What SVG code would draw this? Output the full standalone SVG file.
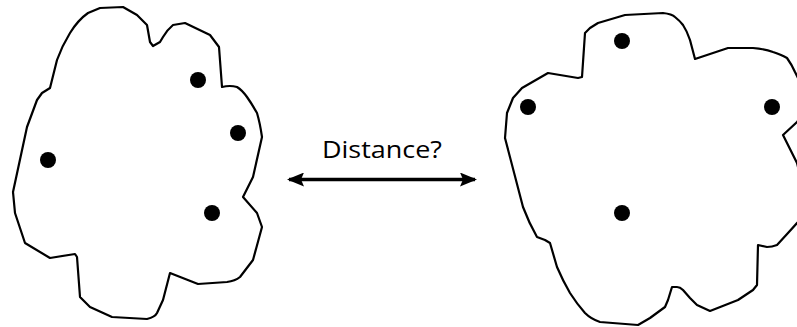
<svg xmlns="http://www.w3.org/2000/svg" width="797" height="327" viewBox="0 0 797 327">
<defs>
<style>
.cloud{fill:#fff;stroke:#000;stroke-width:2.2;stroke-linejoin:round}
.dot{fill:#000}
.conn{stroke:#000;stroke-width:3.5;fill:none}
.lbl{font-family:"Open Sans","Liberation Sans",sans-serif;font-size:24px;fill:#000}
</style>
<marker id="ah" viewBox="0 0 17 14" refX="15" refY="7" markerWidth="17" markerHeight="14" markerUnits="userSpaceOnUse" orient="auto-start-reverse">
<path d="M0,0 L17,7 L0,14 L3,7 Z" fill="#000"/>
</marker>
</defs>
<rect width="797" height="327" fill="#fff"/>
<g id="cloud-left">
<path class="cloud" d="M123,7 L100,8 L88,13 Q78,20 70,33 Q62,46 57,60 L50,88 L42,93 L37,100 L27,127 L13,192 L15,213 L25,243 L50,258 L75,254 L77,257 L80,297 L90,307 L112,317 L147,319 Q155,317 157,313 L163,300 L170,273 L198,284 L227,282 Q235,281 240,277 L253,260 L262,227 L257,213 L243,197 L253,177 L262,137 Q260,123 257,113 Q252,104 247,97 Q242,90 237,87 Q230,85 222,87 L219,47 L210,35 L185,23 L173,25 Q167,30 163,37 L160,42 L153,46 L150,42 L147,25 L137,15 Z"/>
<circle class="dot" cx="198" cy="80" r="8"/>
<circle class="dot" cx="238" cy="133" r="8"/>
<circle class="dot" cx="48" cy="160" r="8"/>
<circle class="dot" cx="212" cy="213" r="8"/>
</g>
<g id="cloud-right">
<path class="cloud" d="M625,15 L663,13 Q672,14 675,17 Q680,21 683,25 Q687,31 690,40 L695,59 L728,48 L753,48 Q765,49 773,52 Q782,55 787,58 Q792,65 795,72 L800,82 L800,118 L797,122 L783,135 L797,163 L800,175 L800,220 L797,223 L788,233 L777,245 Q772,247 767,247 L758,245 L757,285 L753,290 L738,300 L710,311 L697,305 L690,298 L683,290 Q680,287 677,287 L672,287 L668,300 L665,307 L650,318 L638,325 L600,322 Q591,319 585,313 Q577,304 570,293 Q563,281 557,267 L550,243 L545,240 L537,237 Q529,223 523,207 L505,138 L507,113 L513,98 L522,88 L548,73 L578,78 L582,77 L585,33 L590,28 L598,23 Z"/>
<circle class="dot" cx="622" cy="41" r="8"/>
<circle class="dot" cx="528" cy="107" r="8"/>
<circle class="dot" cx="772" cy="107" r="8"/>
<circle class="dot" cx="622" cy="213" r="8"/>
</g>
<g id="connectors">
<line class="conn" x1="289" y1="179.5" x2="475" y2="179.5" marker-start="url(#ah)" marker-end="url(#ah)"/>
<text class="lbl" x="382" y="158" text-anchor="middle" textLength="120" lengthAdjust="spacingAndGlyphs">Distance?</text>
</g>
</svg>
